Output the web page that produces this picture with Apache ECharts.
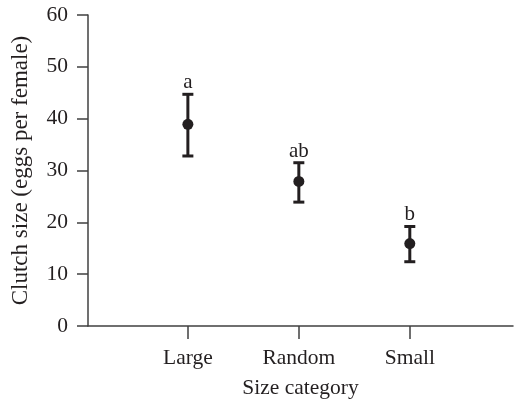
<!DOCTYPE html>
<html>
<head>
<meta charset="utf-8">
<script src="https://cdn.jsdelivr.net/npm/echarts@6/dist/echarts.min.js"></script>
<style>
  html, body { margin: 0; padding: 0; background: #fff; }
  #main { width: 516px; height: 399px; }
</style>
</head>
<body>
<div id="main"></div>
<script>
var categories = ['Large', 'Random', 'Small'];
var means = [38.9, 27.9, 15.9];
var lower = [32.8, 23.9, 12.4];
var upper = [44.7, 31.5, 19.2];
var letters = ['a', 'ab', 'b'];
var yTicks = [0, 10, 20, 30, 40, 50, 60];

var chartDom = document.getElementById('main');
var myChart = echarts.init(chartDom);
var option;

var font = 'Liberation Serif';
var ink = '#231f20';

var barData = categories.map(function (c, i) {
    return [i, lower[i], upper[i], letters[i]];
});
var pointData = categories.map(function (c, i) {
    return [i, means[i]];
});

function renderBar(params, api) {
    var x = api.value(0);
    var lo = api.coord([x, api.value(1)]);
    var hi = api.coord([x, api.value(2)]);
    var half = 5.5;
    var style = { stroke: ink, lineWidth: 3 };
    return {
        type: 'group',
        children: [
            { type: 'line', shape: { x1: lo[0], y1: lo[1], x2: hi[0], y2: hi[1] }, style: style },
            { type: 'line', shape: { x1: lo[0] - half, y1: lo[1], x2: lo[0] + half, y2: lo[1] }, style: style },
            { type: 'line', shape: { x1: hi[0] - half, y1: hi[1], x2: hi[0] + half, y2: hi[1] }, style: style },
            {
                type: 'text',
                style: {
                    x: hi[0], y: hi[1] - 1,
                    text: api.value(3),
                    textAlign: 'center', textVerticalAlign: 'bottom',
                    font: '21px "' + font + '"', fill: ink
                }
            }
        ]
    };
}

option = {
    animation: false,
    grid: { left: 88, right: 3, top: 15, bottom: 73, outerBoundsMode: 'none' },
    xAxis: {
        type: 'value',
        min: -0.9,
        max: 2.93,
        name: 'Size category',
        nameLocation: 'middle',
        nameGap: 51,
        nameTextStyle: { fontFamily: font, fontSize: 21.5, color: ink },
        axisLine: { onZero: false, lineStyle: { color: '#404040', width: 1.5 } },
        axisTick: { show: true, length: 13, customValues: [0, 1, 2], lineStyle: { color: '#404040', width: 1.5 } },
        axisLabel: {
            customValues: [0, 1, 2],
            margin: 21,
            fontFamily: font, fontSize: 21.5, color: ink,
            formatter: function (v) { return categories[Math.round(v)]; }
        },
        splitLine: { show: false }
    },
    yAxis: {
        type: 'value',
        min: 0,
        max: 60,
        interval: 10,
        name: 'Clutch size (eggs per female)',
        nameLocation: 'middle',
        nameGap: 56,
        nameTextStyle: { fontFamily: font, fontSize: 23, color: ink },
        axisLine: { show: true, onZero: false, lineStyle: { color: '#404040', width: 1.5 } },
        axisTick: { show: true, length: 11, lineStyle: { color: '#404040', width: 1.5 } },
        axisLabel: {
            margin: 20,
            fontFamily: font, fontSize: 21.5, color: ink,
            formatter: function (v) { return yTicks.indexOf(v) >= 0 ? String(v) : ''; }
        },
        splitLine: { show: false }
    },
    series: [
        {
            type: 'custom',
            renderItem: renderBar,
            data: barData,
            encode: { x: 0, y: [1, 2] },
            z: 2
        },
        {
            type: 'scatter',
            data: pointData,
            symbol: 'circle',
            symbolSize: 11,
            itemStyle: { color: ink, opacity: 1 },
            z: 3
        }
    ]
};

option && myChart.setOption(option);
</script>
</body>
</html>
